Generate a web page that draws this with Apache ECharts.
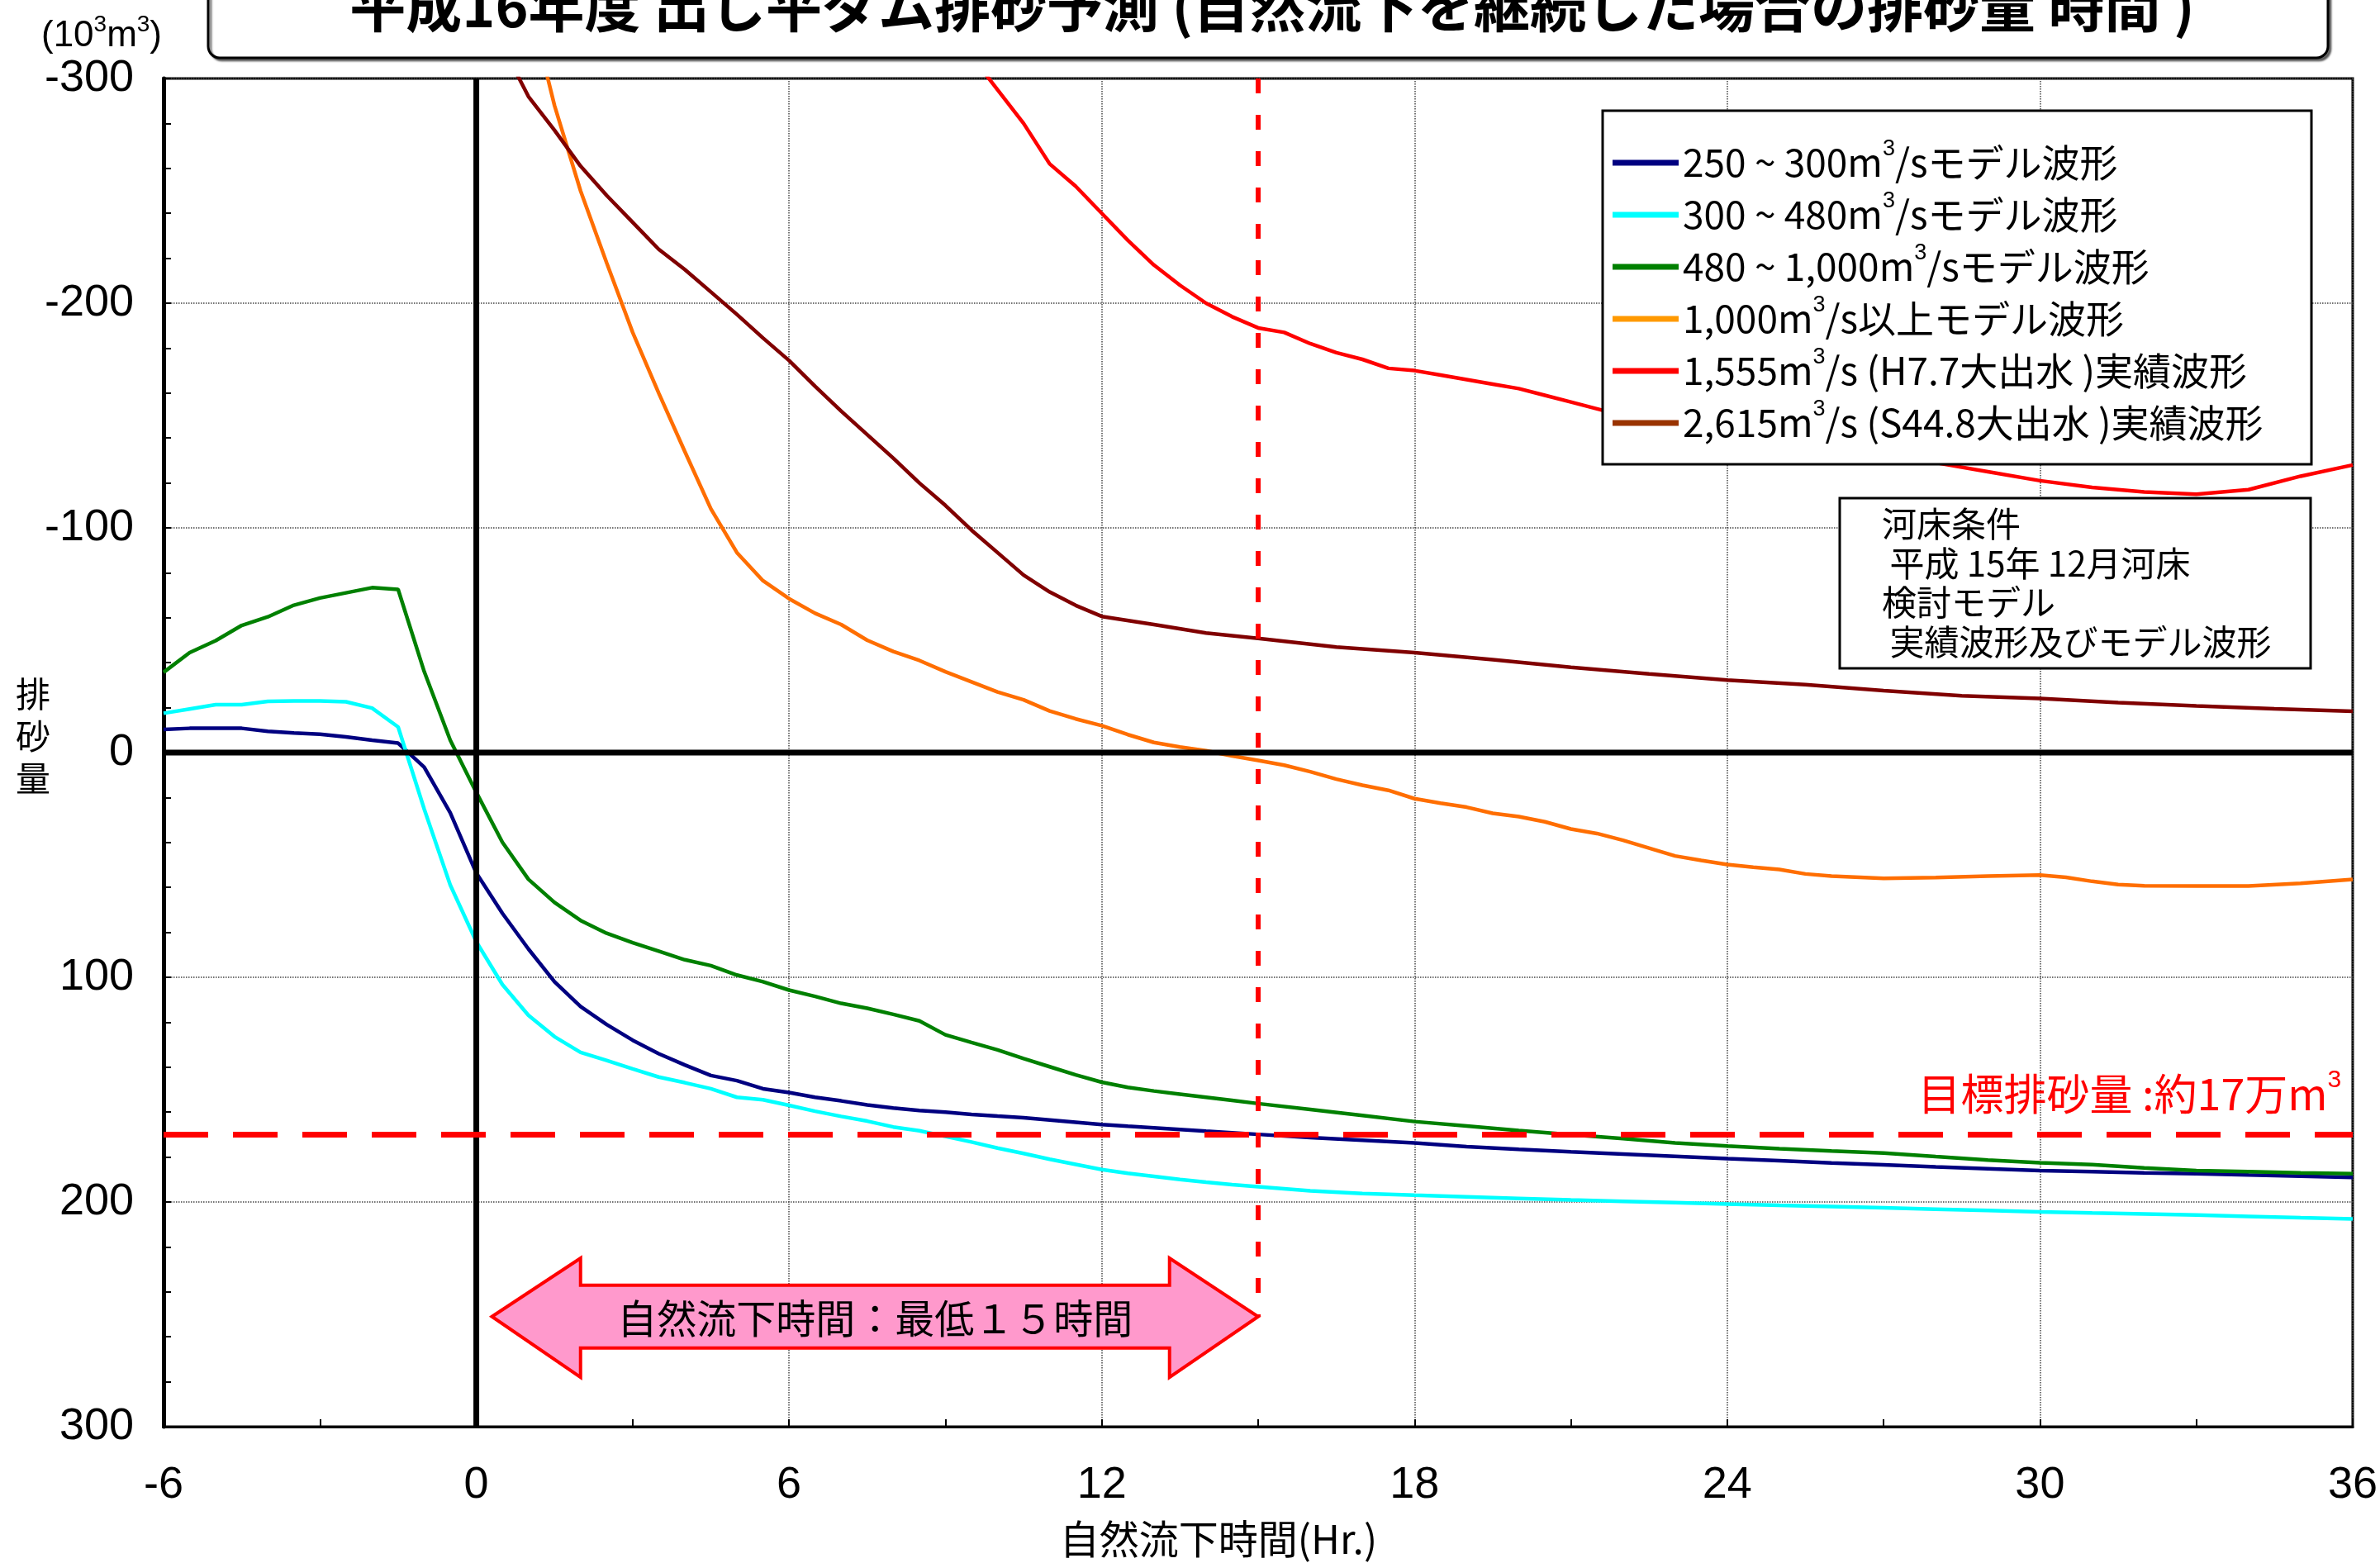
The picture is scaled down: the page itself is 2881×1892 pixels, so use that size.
<!DOCTYPE html>
<html><head><meta charset="utf-8">
<script src="https://cdn.jsdelivr.net/npm/echarts@6/dist/echarts.min.js"></script>
<style>html,body{margin:0;padding:0;background:#fff}#c{width:2881px;height:1892px}</style>
</head><body><div id="c"></div><script>
// ---- data ----
const seriesNames = ['250 ~ 300m³/sモデル波形', '300 ~ 480m³/sモデル波形', '480 ~ 1,000m³/sモデル波形', '1,000m³/s以上モデル波形', '1,555m³/s (H7.7大出水 )実績波形', '2,615m³/s (S44.8大出水 )実績波形'];
const lineColors = ['#000080', '#00FFFF', '#008000', '#FF6E00', '#FF0000', '#800000'];
const legendColors = ['#000080', '#00FFFF', '#008000', '#FF9900', '#FF0000', '#993300'];
const hoursModel = [-6,-5.5,-5,-4.5,-4,-3.5,-3,-2.5,-2,-1.5,-1,-0.5,0,0.5,1,1.5,2,2.5,3,3.5,4,4.5,5,5.5,6,6.5,7,7.5,8,8.5,9,9.5,10,10.5,11,11.5,12,12.5,13,13.5,14,14.5,15,16,17,18,19,20,21,22,23,24,25,26,27,28,29,30,31,32,33,34,35,36];
const blueVals = [-10.3,-10.8,-10.8,-10.8,-9.5,-8.7,-8.2,-7,-5.5,-4.2,6.5,26.8,53.6,71.5,87.4,102,113,121,128,134,139,143.7,146,149.6,151.3,153.4,155,156.8,158.2,159.3,160,161,161.8,162.5,163.5,164.5,165.5,166.3,167,167.7,168.5,169.2,169.9,171.3,172.5,173.7,175.4,176.6,177.7,178.7,179.7,180.7,181.6,182.6,183.5,184.4,185.2,186,186.5,187,187.4,188,188.5,189.1];
const cyanVals = [-17.5,-19.4,-21.3,-21.3,-22.8,-23,-23,-22.6,-19.8,-11.4,25.1,58.9,84.2,103.2,116.9,126.4,133.4,137,140.8,144.4,146.9,149.6,153.4,154.5,157,159.6,161.9,164,166.6,168.3,170.8,173.3,176,178.4,181,183.3,185.6,187.2,188.6,190,191.2,192.3,193.2,195,196.2,197,197.7,198.4,199.1,199.7,200.3,200.9,201.5,202,202.6,203.2,203.8,204.4,204.9,205.3,205.8,206.4,207,207.5];
const greenVals = [-35.7,-44.5,-49.8,-56.6,-60.4,-65.6,-68.8,-71.1,-73.4,-72.6,-36.1,-5.5,17.7,39.9,56.4,66.7,74.7,80.4,84.6,88.4,92.2,94.8,99,102,105.7,108.5,111.6,113.8,116.5,119.4,125.6,129,132.3,136.2,139.8,143.4,146.7,149,150.6,152,153.4,154.8,156.2,158.8,161.5,164.2,166.2,168.2,170,171.8,173.7,175.1,176.3,177.3,178.2,179.8,181.3,182.5,183.4,184.8,186,186.5,187,187.4];
const orangeHours = [1,1.5,2,2.5,3,3.5,4,4.5,5,5.5,6,6.5,7,7.5,8,8.5,9,9.5,10,10.5,11,11.5,12,12.5,13,13.5,14,14.5,15,15.5,16,16.5,17,17.5,18,18.5,19,19.5,20,20.5,21,21.5,22,22.5,23,23.5,24,24.5,25,25.5,26,27,28,29,30,30.5,31,31.5,32,33,34,35,36];
const orangeVals = [-335,-288,-250,-218,-187,-160,-134,-108.5,-89,-76.5,-68.5,-62,-57,-50,-45,-41,-36,-31.5,-27,-23.5,-18.5,-15,-12,-8,-4.5,-2.5,-0.8,1.5,3.5,5.6,8.5,11.8,14.5,16.8,20.5,22.5,24.3,27,28.5,30.8,34,36,39,42.5,46,48,49.8,51,52,54,55,56,55.6,55,54.5,55.5,57.3,58.7,59.3,59.4,59.4,58.2,56.4];
const redHours = [9.5,10,10.5,11,11.5,12,12.5,13,13.5,14,14.5,15,15.5,16,16.5,17,17.5,18,18.5,19,19.5,20,20.5,21,21.5,22,23,24,25,26,27,28,29,30,31,32,33,34,35,36];
const redVals = [-310,-295,-280,-262,-252,-240,-228,-217,-208,-200,-194,-189,-187,-182,-178,-175,-171,-170,-168,-166,-164,-162,-159,-156,-153,-150,-146,-142,-138,-135,-132,-129,-125,-121,-118,-116,-115,-117,-123,-128];
const brownHours = [0.6,1,1.5,2,2.5,3,3.5,4,4.5,5,5.5,6,6.5,7,7.5,8,8.5,9,9.5,10,10.5,11,11.5,12,13,14,15,16.5,18,19.5,21,22.5,24,25.5,27,28.5,30,31.5,33,34.5,36];
const brownVals = [-310,-292,-277,-261,-248,-236,-224,-215,-205,-195,-184.5,-174.5,-163,-152,-141.5,-131,-120,-110,-99,-89,-79,-71.5,-65.5,-60.6,-57,-53.2,-50.8,-47,-44.5,-41.4,-38,-35,-32.3,-30.2,-27.6,-25.3,-24.1,-22.2,-20.8,-19.5,-18.4];
const xTicks = { min: -6, max: 36, interval: 6 };
const yTicks = { min: -300, max: 300, interval: 100 };
const targetValue = 170;           // 目標排砂量 (10^3 m3)
const minHours = 15;               // 最低15時間
const arrowX = [0.3, 2.0, 13.3, 15.0];
const arrowY = { tip: 251, headTop: 225, headBottom: 278, shaftTop: 237, shaftBottom: 265 };
const titleText = '平成16年度 出し平ダム排砂予測 (自然流下を継続した場合の排砂量 時間 )';
const arrowText = '自然流下時間：最低１５時間';
const targetText = '目標排砂量 :約17万m';
const noteLines = ['河床条件', ' 平成 15年 12月河床', '検討モデル', ' 実績波形及びモデル波形'];

const pairs = (xs, ys) => xs.map((x, i) => [x, ys[i]]);
const curveSets = [pairs(hoursModel, blueVals), pairs(hoursModel, cyanVals), pairs(hoursModel, greenVals), pairs(orangeHours, orangeVals), pairs(redHours, redVals), pairs(brownHours, brownVals)];

const JP = '"Noto Sans CJK JP"';
const LAT = '"Liberation Sans", Arial';

const chart = echarts.init(document.getElementById('c'), null, { renderer: 'canvas' });

const curveSeries = seriesNames.map((n, i) => ({
  name: n, type: 'line', data: curveSets[i], showSymbol: false, symbol: 'none', smooth: false,
  color: lineColors[i], lineStyle: { color: lineColors[i], width: 4.5 }, z: 2, clip: true, animation: false
}));

const refLine = (data, color, width, type, z) => ({
  type: 'line', data, showSymbol: false, symbol: 'none', silent: true, animation: false, clip: true,
  lineStyle: { color, width, type }, z
});

const option = {
  animation: false,
  backgroundColor: '#fff',
  grid: { left: 198, right: 33, top: 95, bottom: 165, show: true, borderColor: '#000', borderWidth: 3, backgroundColor: 'transparent' },
  xAxis: {
    type: 'value', min: xTicks.min, max: xTicks.max, interval: xTicks.interval,
    axisLine: { show: true, onZero: false, lineStyle: { color: '#000', width: 3 } },
    axisTick: { show: true, inside: true, length: 9, lineStyle: { color: '#000', width: 2 } },
    minorTick: { show: true, splitNumber: 2, length: 9, lineStyle: { color: '#000', width: 2 } },
    axisLabel: { fontSize: 54, color: '#000', margin: 44, fontFamily: LAT },
    splitLine: { show: true, lineStyle: { color: '#444', width: 1.5, type: 'dotted' } },
    name: '自然流下時間(Hr.)', nameLocation: 'middle', nameGap: 112,
    nameTextStyle: { fontSize: 48, color: '#000', fontFamily: JP, padding: [0, 96, 0, 0] }
  },
  yAxis: {
    type: 'value', inverse: true, min: yTicks.min, max: yTicks.max, interval: yTicks.interval,
    axisLine: { show: true, onZero: false, lineStyle: { color: '#000', width: 5 } },
    axisTick: { show: true, inside: true, length: 9, lineStyle: { color: '#000', width: 2 } },
    minorTick: { show: true, splitNumber: 5, length: 9, lineStyle: { color: '#000', width: 2 } },
    axisLabel: { fontSize: 54, color: '#000', margin: 36, fontFamily: LAT },
    splitLine: { show: true, lineStyle: { color: '#444', width: 1.5, type: 'dotted' } }
  },
  legend: {
    orient: 'vertical', left: 1952, top: 167, itemGap: 10, padding: 0, z: 20,
    icon: 'rect', itemWidth: 80, itemHeight: 7, itemTextGap: 12, selectedMode: false,
    data: seriesNames.map((n, i) => ({ name: n, itemStyle: { color: legendColors[i] } })),
    formatter: n => '{a|' + n.replace('³', '}{s|3}{a|') + '}',
    textStyle: { rich: {
      a: { fontSize: 46, lineHeight: 60, fontFamily: JP, color: '#000' },
      s: { fontSize: 27, lineHeight: 27, verticalAlign: 'top', fontFamily: LAT, color: '#000' }
    } }
  },
  series: [
    ...curveSeries,
    refLine([[0, yTicks.min], [0, yTicks.max]], '#000', 7, 'solid', 4),
    refLine([[xTicks.min, 0], [xTicks.max, 0]], '#000', 7, 'solid', 4),
    refLine([[xTicks.min, targetValue], [xTicks.max, targetValue]], '#FF0000', 7, [54, 30], 5),
    refLine([[minHours, yTicks.min], [minHours, arrowY.tip]], '#FF0000', 6, [18, 26], 5),
    {
      type: 'custom', silent: true, z: 6, animation: false, clip: false,
      data: [[(arrowX[1] + arrowX[2]) / 2, arrowY.tip]],
      renderItem: (params, api) => {
        const P = (x, y) => api.coord([x, y]);
        const pts = [P(arrowX[0], arrowY.tip), P(arrowX[1], arrowY.headTop), P(arrowX[1], arrowY.shaftTop), P(arrowX[2], arrowY.shaftTop),
          P(arrowX[2], arrowY.headTop), P(arrowX[3], arrowY.tip), P(arrowX[2], arrowY.headBottom), P(arrowX[2], arrowY.shaftBottom),
          P(arrowX[1], arrowY.shaftBottom), P(arrowX[1], arrowY.headBottom)];
        const c = P((arrowX[1] + arrowX[2]) / 2, arrowY.tip);
        return { type: 'group', children: [
          { type: 'polygon', shape: { points: pts }, style: { fill: '#FF99CC', stroke: '#FF0000', lineWidth: 4, lineJoin: 'miter' } },
          { type: 'text', style: { text: arrowText, x: c[0], y: c[1] + 2, align: 'center', verticalAlign: 'middle', font: '48px ' + JP, fill: '#000' } }
        ] };
      }
    },
    {
      type: 'custom', silent: true, z: 6, animation: false, clip: false,
      data: [[35.78, 152]],
      renderItem: (params, api) => {
        const p = api.coord([api.value(0), api.value(1)]);
        return { type: 'text', style: { text: '{a|' + targetText + '}{s|3}', x: p[0], y: p[1], align: 'right', verticalAlign: 'middle', fill: '#FF0000',
          rich: { a: { fontSize: 52, lineHeight: 64, fontFamily: JP, fill: '#FF0000' }, s: { fontSize: 30, lineHeight: 30, verticalAlign: 'top', fontFamily: LAT, fill: '#FF0000' } } } };
      }
    }
  ],
  graphic: [
    { type: 'rect', z: 1, shape: { x: 252, y: -40, width: 2566, height: 110, r: 14 }, style: { fill: '#fff', stroke: '#000', lineWidth: 3, shadowColor: 'rgba(0,0,0,0.5)', shadowOffsetX: 3, shadowOffsetY: 3, shadowBlur: 2 } },
    { type: 'text', z: 2, x: 1540, y: 7, style: { text: titleText, font: 'bold 68px ' + JP, align: 'center', verticalAlign: 'middle', fill: '#000' } },
    { type: 'text', z: 2, x: 123, y: 44, style: { text: '{a|(10}{s|3}{a|m}{s|3}{a|)}', align: 'center', verticalAlign: 'middle',
      rich: { a: { fontSize: 44, lineHeight: 56, fontFamily: LAT, color: '#000' }, s: { fontSize: 28, lineHeight: 28, verticalAlign: 'top', fontFamily: LAT, color: '#000' } } } },
    { type: 'text', z: 2, x: 40, y: 891, style: { text: '排\n砂\n量', font: '42px ' + JP, lineHeight: 51, align: 'center', verticalAlign: 'middle', fill: '#000' } },
    { type: 'rect', z: 10, shape: { x: 1940, y: 134, width: 858, height: 428 }, style: { fill: '#fff', stroke: '#000', lineWidth: 3 } },
    { type: 'rect', z: 10, shape: { x: 2227, y: 603, width: 570, height: 206 }, style: { fill: '#fff', stroke: '#000', lineWidth: 3 } },
    ...noteLines.map((t, i) => ({ type: 'text', z: 11, x: 2278, y: 634 + i * 47.7, style: { text: t, font: '42px ' + JP, align: 'left', verticalAlign: 'middle', fill: '#000' } }))
  ]
};
chart.setOption(option);
</script></body></html>
